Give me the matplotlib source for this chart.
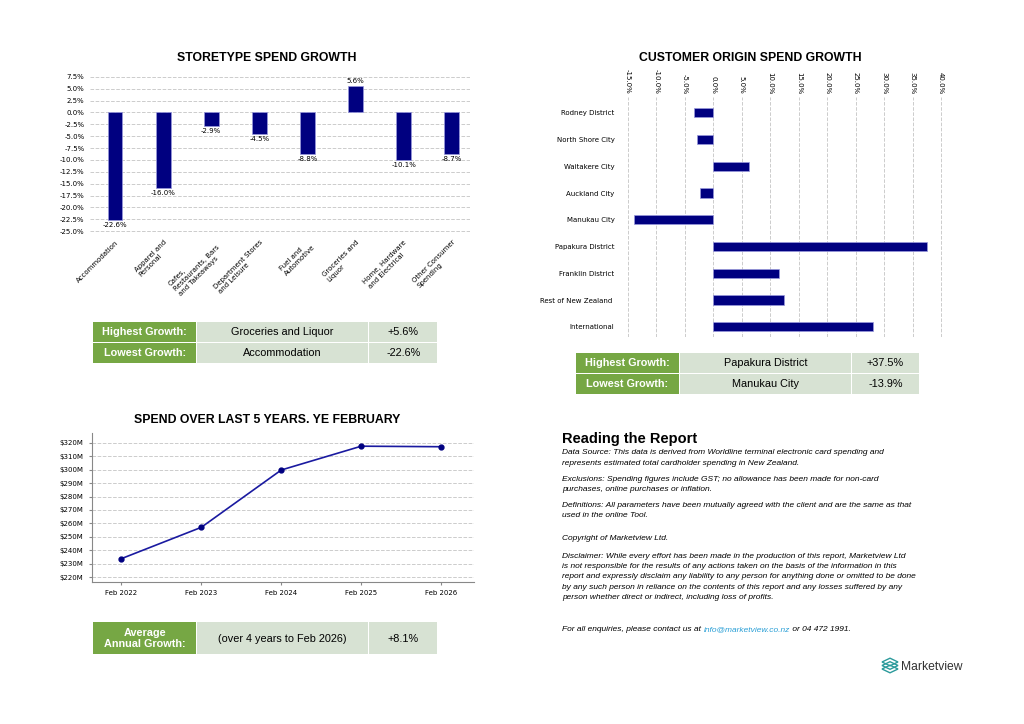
import matplotlib.pyplot as plt
import matplotlib.ticker as mticker
from matplotlib.patches import Rectangle, Polygon

# ---- data ----
store_types = ['Accommodation', 'Apparel and\nPersonal', 'Cafes,\nRestaurants, Bars\nand Takeaways',
               'Department Stores\nand Leisure', 'Fuel and\nAutomotive', 'Groceries and\nLiquor',
               'Home, Hardware\nand Electrical', 'Other Consumer\nSpending']
store_growth = [-22.6, -16.0, -2.9, -4.5, -8.8, 5.6, -10.1, -8.7]

origins = ['Rodney District', 'North Shore City', 'Waitakere City', 'Auckland City', 'Manukau City',
           'Papakura District', 'Franklin District', 'Rest of New Zealand ', 'International']
origin_growth = [-3.4, -2.8, 6.3, -2.4, -13.9, 37.5, 11.6, 12.4, 28.1]

years = ['Feb 2022', 'Feb 2023', 'Feb 2024', 'Feb 2025', 'Feb 2026']
spend = [233.8, 257.1, 299.7, 317.4, 317.0]

store_table = [['Highest Growth:', 'Groceries and Liquor', '+5.6%'],
               ['Lowest Growth:', 'Accommodation', '-22.6%']]
origin_table = [['Highest Growth:', 'Papakura District', '+37.5%'],
                ['Lowest Growth:', 'Manukau City', '-13.9%']]
avg_table = [['Average\nAnnual Growth:', '(over 4 years to Feb 2026)', '+8.1%']]

report_paras = [
    ["Data Source: This data is derived from Worldline terminal electronic card spending and",
     "represents estimated total cardholder spending in New Zealand."],
    ["Exclusions: Spending figures include GST; no allowance has been made for non-card",
     "purchases, online purchases or inflation."],
    ["Definitions: All parameters have been mutually agreed with the client and are the same as that",
     "used in the online Tool."],
    ["Copyright of Marketview Ltd."],
    ["Disclaimer: While every effort has been made in the production of this report, Marketview Ltd",
     "is not responsible for the results of any actions taken on the basis of the information in this",
     "report and expressly disclaim any liability to any person for anything done or omitted to be done",
     "by any such person in reliance on the contents of this report and any losses suffered by any",
     "person whether direct or indirect, including loss of profits."],
]
para_y = [453, 479.5, 505.5, 538.5, 556]

W, H = 1024, 724
NAVY = '#000080'
GREEN = '#76a744'
LIGHT = '#d7e2d3'
SANS = 'Liberation Sans'
TICK = 5


def box(x0, y0, x1, y1):
    return [x0 / W, 1 - y1 / H, (x1 - x0) / W, (y1 - y0) / H]


fig = plt.figure(figsize=(10.24, 7.24), dpi=100)

# overlay in pixel coords for tables / text
ov = fig.add_axes([0, 0, 1, 1])
ov.set_xlim(0, W)
ov.set_ylim(H, 0)
ov.axis('off')

# ---- storetype bar chart ----
ax1 = fig.add_axes(box(90, 73, 470, 235))
x1 = range(len(store_types))
ax1.bar(x1, store_growth, width=0.31, color=NAVY, edgecolor='#9999dd', linewidth=0.5, zorder=3)
for i, v in enumerate(store_growth):
    ax1.text(i, v + (0.4 if v > 0 else -0.4), f'{v:.1f}%', ha='center',
             va='bottom' if v > 0 else 'top', fontsize=TICK)
ax1.set_ylim(-25.8, 8.3)
ax1.set_xlim(-0.52, 7.38)
ax1.set_yticks([7.5 - 2.5 * k for k in range(14)])
ax1.yaxis.set_major_formatter(mticker.FormatStrFormatter('%.1f%%'))
ax1.set_xticks(list(x1))
ax1.set_xticklabels(store_types, rotation=45, ha='right', rotation_mode='anchor',
                    fontsize=TICK, multialignment='left')
ax1.tick_params(axis='y', labelsize=TICK, length=0, pad=4)
ax1.tick_params(axis='x', length=0, pad=3)
ax1.grid(axis='y', linestyle='--', color='#cccccc', linewidth=0.7, zorder=0)
for s in ax1.spines.values():
    s.set_visible(False)
fig.text(267 / W, 1 - 58 / H, 'STORETYPE SPEND GROWTH', ha='center', va='center',
         fontsize=8.8, fontweight='bold', family=SANS)

# ---- customer origin chart ----
ax2 = fig.add_axes(box(620, 96.7, 945, 336.7))
y2 = range(len(origins))
ax2.barh(y2, origin_growth, height=0.35, color=NAVY, edgecolor='#9999dd', linewidth=0.5, zorder=3)
ax2.set_ylim(8.37, -0.6)
ax2.set_xlim(-16.4, 40.7)
ax2.set_xticks([-15 + 5 * k for k in range(12)])
ax2.xaxis.set_major_formatter(mticker.FormatStrFormatter('%.1f%%'))
ax2.xaxis.tick_top()
ax2.tick_params(axis='x', labelsize=TICK, length=0, pad=2, labelrotation=-90)
ax2.set_yticks(list(y2))
ax2.set_yticklabels(origins, fontsize=TICK)
ax2.tick_params(axis='y', length=0, pad=4)
ax2.grid(axis='x', linestyle='--', color='#cccccc', linewidth=0.7, zorder=0)
for s in ax2.spines.values():
    s.set_visible(False)
fig.text(750 / W, 1 - 58 / H, 'CUSTOMER ORIGIN SPEND GROWTH', ha='center', va='center',
         fontsize=8.8, fontweight='bold', family=SANS)

# ---- spend line chart ----
ax3 = fig.add_axes(box(91.7, 433, 474, 581.7))
x3 = range(len(years))
ax3.plot(x3, spend, color='#1a1aa0', linewidth=1.2, marker='o', markersize=3.5,
         markerfacecolor=NAVY, markeredgecolor=NAVY, zorder=3)
ax3.set_xlim(-0.37, 4.41)
ax3.set_ylim(216.7, 327.2)
ax3.set_yticks(range(220, 321, 10))
ax3.yaxis.set_major_formatter(mticker.FormatStrFormatter('$%dM'))
ax3.set_xticks(list(x3))
ax3.set_xticklabels(years)
ax3.tick_params(labelsize=TICK, length=2.5, color='#888888')
ax3.grid(axis='y', linestyle='--', color='#cccccc', linewidth=0.7, zorder=0)
for side in ['top', 'right']:
    ax3.spines[side].set_visible(False)
for side in ['left', 'bottom']:
    ax3.spines[side].set_color('#888888')
fig.text(267 / W, 1 - 420 / H, 'SPEND OVER LAST 5 YEARS. YE FEBRUARY', ha='center', va='center',
         fontsize=8.8, fontweight='bold', family=SANS)


# ---- tables ----
def draw_table(rows, cols, y0, row_h):
    for r, row in enumerate(rows):
        top = y0 + r * (row_h + 1)
        for c, txt in enumerate(row):
            xa, xb = cols[c]
            fc = GREEN if c == 0 else LIGHT
            ov.add_patch(Rectangle((xa, top), xb - xa, row_h, facecolor=fc, edgecolor='none'))
            ov.text((xa + xb) / 2, top + row_h / 2 + 0.5, txt, ha='center', va='center',
                    fontsize=7.8, family=SANS, linespacing=1.1,
                    color='white' if c == 0 else 'black',
                    fontweight='bold' if c == 0 else 'normal')


draw_table(store_table, [(93.3, 196), (197, 368), (369.3, 437.3)], 321.7, 20)
draw_table(origin_table, [(576, 678.7), (680, 850.7), (852, 919)], 352.7, 20)
draw_table(avg_table, [(93.3, 196), (197, 368), (369.3, 437.3)], 621.7, 32.6)

# ---- reading the report ----
ov.text(562, 438.5, 'Reading the Report', fontsize=10.5, fontweight='bold', family=SANS,
        ha='left', va='center')
for yy, para in zip(para_y, report_paras):
    for j, line in enumerate(para):
        ov.text(562, yy + j * 10.4, line, fontsize=6.0, style='italic', family=SANS,
                ha='left', va='center')
t1 = ov.text(562, 629.5, 'For all enquiries, please contact us at ', fontsize=6.0,
             style='italic', family=SANS, ha='left', va='center')
t2 = ov.annotate('info@marketview.co.nz', xy=(1, 0), xycoords=t1, ha='left', va='bottom',
                 fontsize=6.0, style='italic', family=SANS, color='#2a9fd6')
ov.annotate(' or 04 472 1991.', xy=(1, 0), xycoords=t2, ha='left', va='bottom',
            fontsize=6.0, style='italic', family=SANS)

# ---- logo ----
TEAL = '#2b9a9b'
for k in range(3):
    cy = 662 + k * 3.5
    ov.add_patch(Polygon([(882, cy), (890, cy - 3.8), (898, cy), (890, cy + 3.8)], closed=True,
                         fill=False, edgecolor=TEAL, linewidth=1.0))
ov.text(901.5, 667, 'Marketview', fontsize=8.7, family=SANS, color='#333333', ha='left', va='center')

fig.savefig('out.png', dpi=100)
